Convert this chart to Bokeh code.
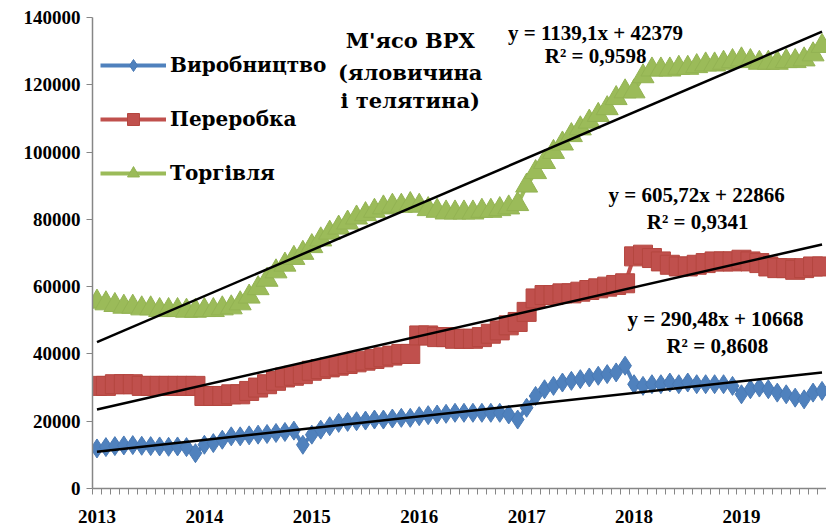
from bokeh.plotting import figure
from bokeh.models import (Range1d, FixedTicker, SingleIntervalTicker, PrintfTickFormatter,
                          Legend, LegendItem, Label)
from bokeh.embed import file_html
from bokeh.resources import INLINE

# ---- data -------------------------------------------------------------
years = ["2013", "2014", "2015", "2016", "2017", "2018", "2019"]
months = list(range(1, 83))  # Jan 2013 .. Oct 2019

production = [  # Виробництво
    11900, 12300, 12600, 12800, 12900, 12700, 12600, 12500, 12400, 12500, 12300, 10500,
    13000, 13500, 14500, 15500, 15500, 15800, 16000, 16200, 16500, 16800, 17200, 13000,
    16000, 17500, 18500, 19500, 19800, 20000, 20200, 20500, 20500, 20800, 21000, 21000,
    21500, 21800, 22000, 22200, 22500, 22500, 22500, 22500, 22500, 22500, 22000, 20500,
    24000, 27500, 29500, 30500, 31500, 32000, 32500, 33000, 33500, 34000, 34500, 36500,
    31000, 30500, 31000, 31000, 31500, 31000, 31500, 31000, 31000, 31000, 31000, 30500,
    28000, 29500, 30000, 29500, 28500, 28000, 27000, 26500, 28500, 29000]

processing = [  # Переробка
    30500, 30500, 31000, 31000, 31000, 30500, 30500, 30500, 30500, 30500, 30500, 30500,
    27500, 27500, 27500, 28000, 28000, 29000, 30000, 31000, 32000, 33000, 33500, 34000,
    35000, 35500, 36000, 36500, 37000, 37500, 38000, 38500, 39000, 39500, 40000, 40000,
    45500, 45500, 45000, 45000, 44500, 44500, 44500, 45000, 46000, 47000, 48500, 49500,
    52500, 56500, 57500, 57500, 58000, 58000, 58500, 59000, 59500, 60000, 60500, 61000,
    69000, 69500, 68500, 67500, 66500, 66000, 66000, 66500, 67000, 67500, 67500, 67500,
    68000, 67500, 67000, 66000, 65500, 65500, 65000, 65500, 66000, 66000]

trade = [  # Торгівля
    55500, 55000, 54500, 54000, 54000, 53500, 53500, 53000, 53000, 53000, 52800, 52800,
    53000, 53000, 53500, 53800, 55000, 57000, 59500, 62000, 64500, 66500, 68500, 70000,
    72000, 74000, 76000, 77500, 79000, 80500, 81500, 82500, 83500, 84000, 84000, 84500,
    84000, 83000, 82500, 82000, 82000, 82000, 82000, 82500, 82500, 83000, 83500, 84500,
    90000, 94000, 97000, 100000, 102500, 105000, 107000, 109000, 111000, 113000, 116000, 118000,
    118000, 122500, 124500, 124500, 124500, 125000, 125000, 125500, 126000, 126000, 126500, 127000,
    127500, 127000, 126500, 126500, 126500, 127000, 127000, 127500, 129000, 131500]

series_names = ["Виробництво", "Переробка", "Торгівля"]
trend_slopes = [290.48, 605.72, 1139.1]
trend_intercepts = [10668, 22866, 42379]
trend_eq_texts = ["y = 290,48x + 10668", "y = 605,72x + 22866", "y = 1139,1x + 42379"]
trend_r2_texts = ["R² = 0,8608", "R² = 0,9341", "R² = 0,9598"]
title_lines = ["М'ясо ВРХ", "(яловичина", "і телятина)"]

# ---- figure -----------------------------------------------------------
FONT = "Liberation Serif"
CYR = "DejaVu Serif"
p = figure(width=826, height=528, output_backend="svg", toolbar_location=None,
           x_range=Range1d(0.5, 82.5), y_range=Range1d(0, 140000),
           min_border_left=92, min_border_right=0, min_border_top=17, min_border_bottom=40)
p.outline_line_color = None
p.xgrid.visible = False
p.ygrid.visible = False
p.background_fill_color = "white"
p.border_fill_color = "white"

colors = ["#4F81BD", "#C0504D", "#9BBB59"]
edge = ["#4A7AB5", "#B4463F", "#93B353"]
markers = ["diamond", "square", "triangle"]
sizes = [19, 19, 22]
data = [production, processing, trade]

items = []
for name, vals, c, ec, m, s in zip(series_names, data, colors, edge, markers, sizes):
    lr = p.line(months, vals, line_color=c, line_width=4)
    sr = p.scatter(months, vals, marker=m, size=s, fill_color=c,
                   line_color=ec, line_width=1)
    items.append(LegendItem(label=name, renderers=[lr, sr]))

# trend lines
x_ends = [months[0], months[-1]]
for a, b in zip(trend_slopes, trend_intercepts):
    p.line(x_ends, [a * x + b for x in x_ends], line_color="black", line_width=2.5)

# axes
xa = p.xaxis[0]
xa.ticker = FixedTicker(ticks=[1 + 12 * k for k in range(len(years))],
                        minor_ticks=[0.5 + k for k in range(83)])
xa.major_label_overrides = {1 + 12 * k: y for k, y in enumerate(years)}
xa.major_tick_out = 0
xa.major_tick_in = 0
xa.minor_tick_out = 6
xa.minor_tick_in = 0
xa.minor_tick_line_color = "#868686"
xa.axis_line_color = "#868686"
xa.axis_line_width = 1.5
xa.major_label_standoff = 15
xa.major_label_text_font = FONT
xa.major_label_text_font_style = "bold"
xa.major_label_text_font_size = "19px"
xa.major_label_text_color = "black"

ya = p.yaxis[0]
ya.ticker = SingleIntervalTicker(interval=20000, num_minor_ticks=0)
ya.formatter = PrintfTickFormatter(format="%d")
ya.major_tick_out = 6
ya.major_tick_in = 0
ya.minor_tick_out = 0
ya.minor_tick_in = 0
ya.major_tick_line_color = "#868686"
ya.axis_line_color = "#868686"
ya.axis_line_width = 1.5
ya.major_label_standoff = 6
ya.major_label_text_font = FONT
ya.major_label_text_font_style = "bold"
ya.major_label_text_font_size = "19px"
ya.major_label_text_color = "black"

# legend
legend = Legend(items=items, location=(8, 300), orientation="vertical",
                label_text_font=CYR, label_text_font_style="bold",
                label_text_font_size="20px", label_text_color="black",
                glyph_width=66, glyph_height=30, spacing=24, label_standoff=4,
                padding=0, margin=0, border_line_alpha=0, background_fill_alpha=0)
p.add_layout(legend)

# title block
title_pos = [(36.0, 133100), (36.0, 123600), (36.0, 115300)]
for t, (tx, ty) in zip(title_lines, title_pos):
    p.add_layout(Label(x=tx, y=ty, text=t, text_align="center", text_baseline="middle",
                       text_font=CYR, text_font_style="bold", text_font_size="21px",
                       text_color="black"))

# trend equations
eq_pos = [(70.1, 50500), (68.0, 87100), (56.7, 135500)]
r2_pos = [(70.3, 42500), (68.1, 79100), (56.7, 128700)]
for eq, r2, (ex, ey), (rx, ry) in zip(trend_eq_texts, trend_r2_texts, eq_pos, r2_pos):
    p.add_layout(Label(x=ex, y=ey, text=eq, text_align="center", text_baseline="middle",
                       text_font=FONT, text_font_style="bold", text_font_size="21px",
                       text_color="black"))
    p.add_layout(Label(x=rx, y=ry, text=r2, text_align="center", text_baseline="middle",
                       text_font=FONT, text_font_style="bold", text_font_size="21px",
                       text_color="black"))

open("out.html", "w").write(file_html(p, INLINE))
